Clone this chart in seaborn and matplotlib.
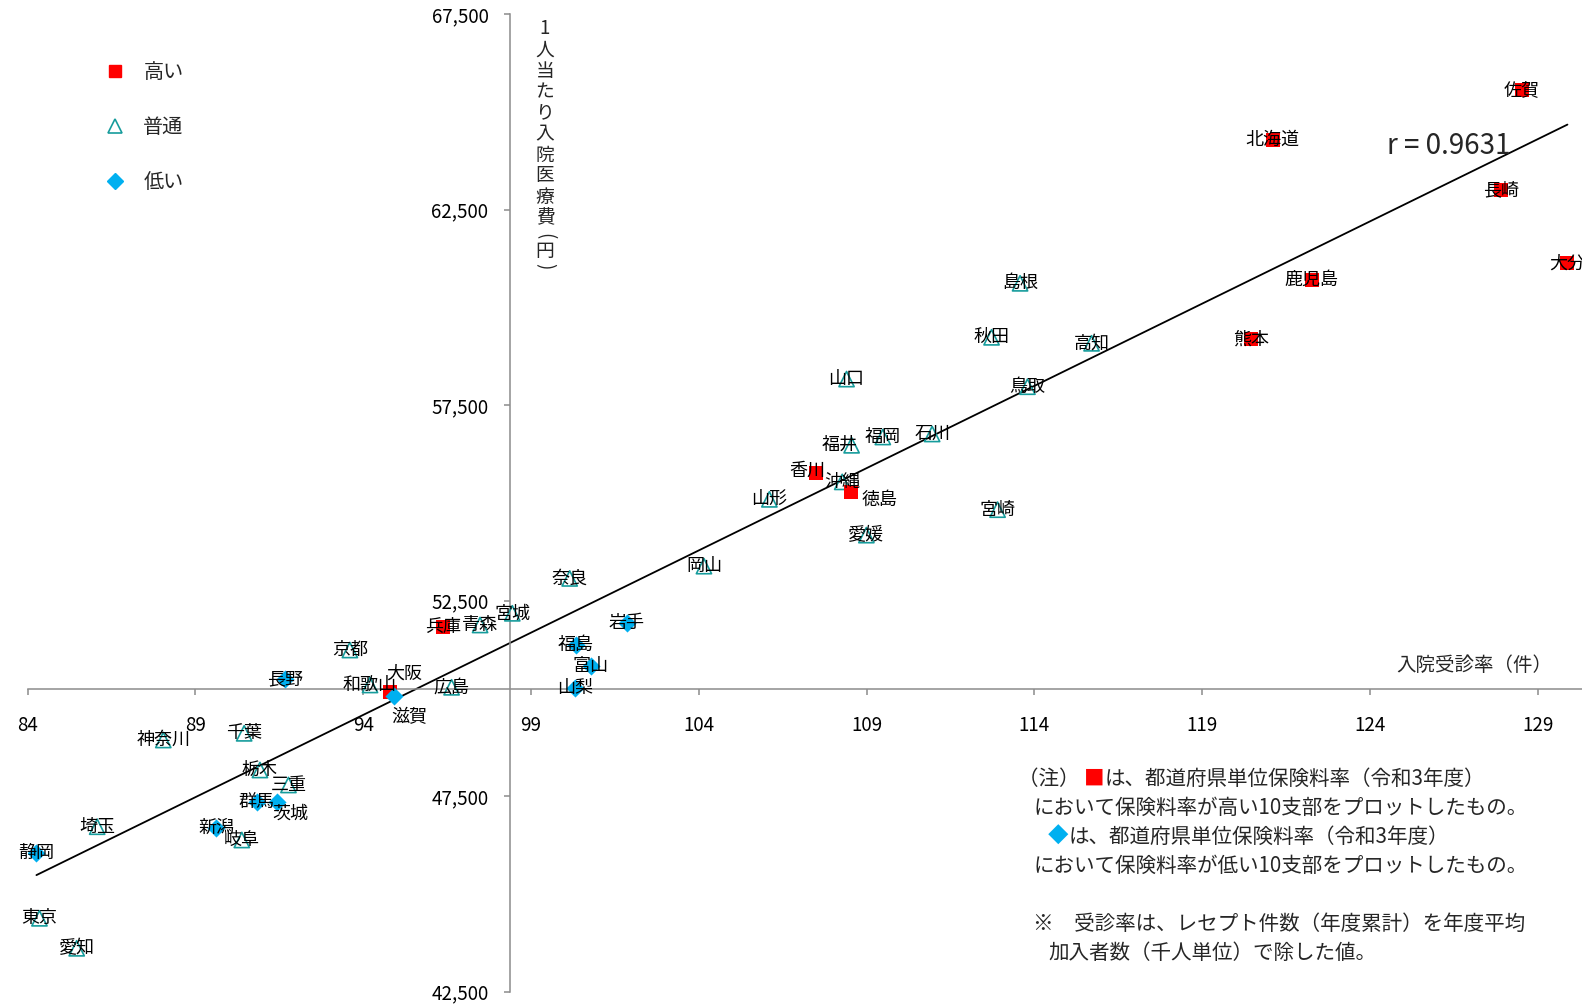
import numpy as np
import pandas as pd
import matplotlib.pyplot as plt
from matplotlib.lines import Line2D
from matplotlib.ticker import FuncFormatter
import seaborn as sns

# Data: 入院受診率 (件) and 1人当たり入院医療費 (円)
high_names = ['北海道', '佐賀', '長崎', '大分', '鹿児島', '熊本', '香川', '徳島', '兵庫', '大阪']
high_rate = [121.10, 128.52, 127.89, 129.88, 122.26, 120.44, 107.48, 108.53, 96.38, 94.80]
high_cost = [64278, 65557, 63000, 61125, 60698, 59182, 55756, 55285, 51833, 50171]

normal_names = ['島根', '秋田', '高知', '鳥取', '山口', '福井', '福岡', '石川', '沖縄', '山形',
                '宮崎', '愛媛', '岡山', '奈良', '宮城', '青森', '京都', '和歌山', '広島', '千葉',
                '神奈川', '栃木', '三重', '岐阜', '埼玉', '東京', '愛知']
normal_rate = [113.57, 112.72, 115.70, 113.79, 108.40, 108.55, 109.48, 110.95, 108.27, 106.10,
               112.90, 108.99, 104.15, 100.15, 98.44, 97.48, 93.60, 94.20, 96.63, 90.45,
               88.04, 90.92, 91.77, 90.38, 86.07, 84.35, 85.46]
normal_cost = [60614, 59233, 59080, 57970, 58165, 56472, 56684, 56761, 55536, 55090,
               54826, 54175, 53382, 53068, 52176, 51877, 51237, 50343, 50284, 49107,
               48936, 48169, 47786, 46379, 46719, 44377, 43610]

low_names = ['静岡', '新潟', '群馬', '茨城', '長野', '滋賀', '岩手', '福島', '富山', '山梨']
low_rate = [84.26, 89.61, 90.82, 91.42, 91.67, 94.91, 101.85, 100.34, 100.77, 100.31]
low_cost = [46039, 46678, 47359, 47359, 50488, 50069, 51920, 51365, 50828, 50258]

# axes cross at the national averages
cross_rate = 98.37
cross_cost = 50233

x_ticks = [84, 89, 94, 99, 104, 109, 114, 119, 124, 129]
y_ticks = [42500, 47500, 52500, 57500, 62500, 67500]

df_high = pd.DataFrame({'name': high_names, 'rate': high_rate, 'cost': high_cost})
df_normal = pd.DataFrame({'name': normal_names, 'rate': normal_rate, 'cost': normal_cost})
df_low = pd.DataFrame({'name': low_names, 'rate': low_rate, 'cost': low_cost})
df_all = pd.concat([df_high, df_normal, df_low], ignore_index=True)

sns.set_style('white')
plt.rcParams['font.family'] = ['Noto Sans CJK JP', 'DejaVu Sans']

RED = '#FF0000'
TEAL = '#169C9C'
BLUE = '#00B0F0'
GRAY = '#8C8C8C'

W, H = 1582, 1005
fig = plt.figure(figsize=(W / 100, H / 100), dpi=100)
ax = fig.add_axes([27.7 / W, 13.3 / H, (W - 27.7) / W, 977.7 / H])

# Markers
sns.scatterplot(data=df_normal, x='rate', y='cost', marker='^', s=120, ax=ax, zorder=3, legend=False)
tri = ax.collections[-1]
tri.set_facecolor('none')
tri.set_edgecolor(TEAL)
tri.set_linewidth(1.2)
sns.scatterplot(data=df_high, x='rate', y='cost', marker='s', s=95, color=RED,
                linewidth=0, ax=ax, zorder=3, legend=False)
sns.scatterplot(data=df_low, x='rate', y='cost', marker='D', s=85, color=BLUE,
                linewidth=0, ax=ax, zorder=3, legend=False)

# Regression line
sns.regplot(data=df_all, x='rate', y='cost', scatter=False, ci=None, truncate=True,
            color='black', line_kws={'lw': 1.3, 'zorder': 2}, ax=ax)

# Data labels (most centred on the marker)
label_offsets = {'大阪': (10, 13), '滋賀': (11, -15.5), '茨城': (10, -8.5),
                 '徳島': (21, -6), '香川': (-6, 2), '福井': (-8.5, 0)}
for _, row in df_all.iterrows():
    off = label_offsets.get(row['name'], (0, 0))
    ax.annotate(row['name'], (row['rate'], row['cost']), xytext=off,
                textcoords='offset points', ha='center', va='center',
                fontsize=13, color='black', zorder=5, annotation_clip=False)

ax.set_xlim(84, 84 + (W - 27.7) / 33.56)
ax.set_ylim(42500, 67500)

# Axes crossing at the averages
for side in ['top', 'right']:
    ax.spines[side].set_visible(False)
ax.spines['left'].set_position(('data', cross_rate))
ax.spines['bottom'].set_position(('data', cross_cost))
for side in ['left', 'bottom']:
    ax.spines[side].set_color(GRAY)
    ax.spines[side].set_linewidth(1.1)

ax.set_xticks(x_ticks)
ax.set_yticks(y_ticks)
ax.yaxis.set_major_formatter(FuncFormatter(lambda v, p: f'{v:,.0f}'))
ax.tick_params(bottom=True, left=True, direction='out', length=4.5, width=1.1,
               color=GRAY, labelsize=13.5, labelcolor='black')
ax.tick_params(axis='x', pad=14)
ax.tick_params(axis='y', pad=11)
ax.set_xlabel('')
ax.set_ylabel('')


def fx(px):
    return px / W


def fy(py):
    return 1 - py / H


# Axis titles
fig.text(fx(1552), fy(665), '入院受診率（件）', ha='right', va='center', fontsize=14)

# vertical y title, characters stacked upright, brackets turned
ytitle = ['1', '人', '当', 'た', 'り', '入', '院', '医', '療', '費', '(', '円', ')']
y_steps = [21] * 9 + [18, 15, 15]
py = 29
for i, ch in enumerate(ytitle):
    rot = -90 if ch in '()' else 0
    fig.text(fx(545), fy(py), ch, ha='center', va='center', fontsize=13.5, rotation=rot)
    if i < len(y_steps):
        py += y_steps[i]

fig.text(fx(1449), fy(146), 'r = 0.9631', ha='center', va='center', fontsize=20)

# Legend
handles = [Line2D([], [], ls='', marker='s', color=RED, ms=9),
           Line2D([], [], ls='', marker='^', mfc='none', mec=TEAL, mew=1.2, ms=10),
           Line2D([], [], ls='', marker='D', color=BLUE, ms=8)]
ax.legend(handles, ['高い', '普通', '低い'], loc='upper left',
          bbox_to_anchor=(fx(105), fy(62)), bbox_transform=fig.transFigure,
          frameon=False, fontsize=14.5, borderpad=0, borderaxespad=0,
          handlelength=1.0, handletextpad=0.9, labelspacing=1.7)

# Notes
note_fs = 14.8
t1 = fig.text(fx(1018), fy(779), '（注） ', ha='left', va='center', fontsize=note_fs)
t1b = ax.annotate('■', xy=(1, 0.5), xycoords=t1, ha='left', va='center',
                  fontsize=note_fs, color=RED)
ax.annotate('は、都道府県単位保険料率（令和3年度）', xy=(1, 0.5), xycoords=t1b,
            ha='left', va='center', fontsize=note_fs)
fig.text(fx(1033), fy(808), 'において保険料率が高い10支部をプロットしたもの。',
         ha='left', va='center', fontsize=note_fs)
t3 = fig.text(fx(1048), fy(837), '◆', ha='left', va='center', fontsize=note_fs, color=BLUE)
ax.annotate('は、都道府県単位保険料率（令和3年度）', xy=(1, 0.5), xycoords=t3,
            ha='left', va='center', fontsize=note_fs)
fig.text(fx(1033), fy(866), 'において保険料率が低い10支部をプロットしたもの。',
         ha='left', va='center', fontsize=note_fs)
fig.text(fx(1033), fy(924), '※　受診率は、レセプト件数（年度累計）を年度平均',
         ha='left', va='center', fontsize=note_fs)
fig.text(fx(1048), fy(953), '加入者数（千人単位）で除した値。',
         ha='left', va='center', fontsize=note_fs)

fig.savefig('out.png', dpi=100)
